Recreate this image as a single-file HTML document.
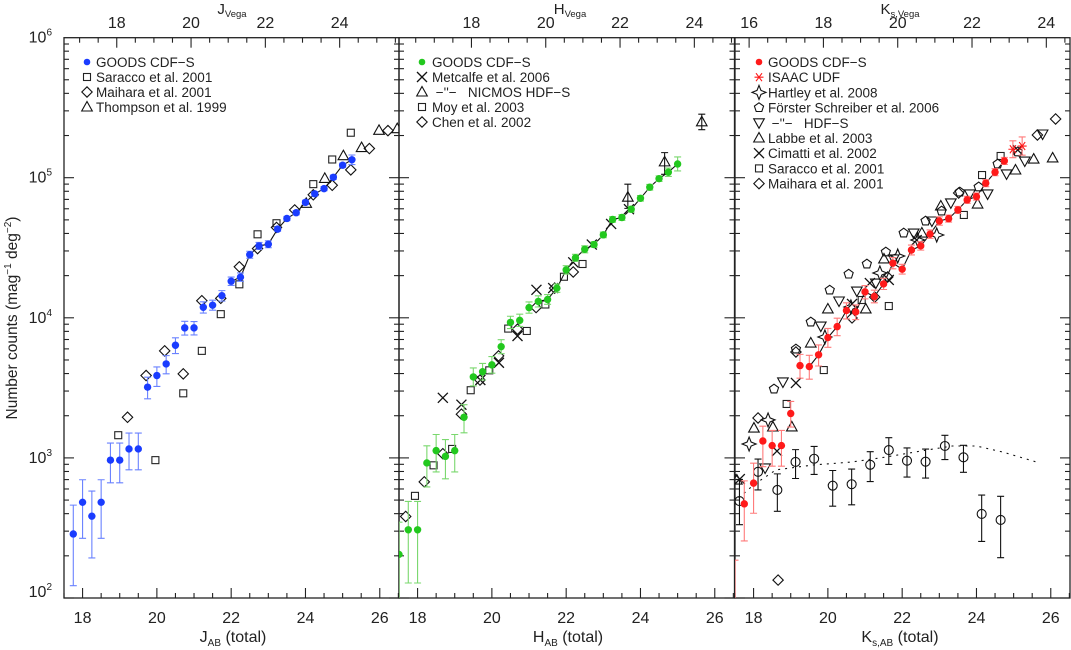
<!DOCTYPE html>
<html><head><meta charset="utf-8">
<style>
html,body{margin:0;padding:0;background:#fff;}
svg{display:block;font-family:"Liberation Sans",sans-serif;}
text{fill:#222;}
</style></head>
<body>
<svg id="chart" width="1071" height="650" viewBox="0 0 1071 650" xmlns="http://www.w3.org/2000/svg">
<defs>
<clipPath id="c0"><rect x="64" y="37.7" width="335" height="560.3"/></clipPath>
<clipPath id="c1"><rect x="399" y="37.7" width="335.5" height="560.3"/></clipPath>
<clipPath id="c2"><rect x="735" y="37.7" width="335" height="560.3"/></clipPath>
</defs>
<g id="axes"></g>
<g id="marks"></g>
<text transform="translate(17,318) rotate(-90)" text-anchor="middle" font-size="15.5">Number counts (mag<tspan dy="-6" font-size="10">−1</tspan><tspan dy="6"> deg</tspan><tspan dy="-6" font-size="10">−2</tspan><tspan dy="6">)</tspan></text>
<text x="233" y="642" text-anchor="middle" font-size="16">J<tspan dy="4" font-size="10">AB</tspan><tspan dy="-4"> (total)</tspan></text>
<text x="568" y="642" text-anchor="middle" font-size="16">H<tspan dy="4" font-size="10">AB</tspan><tspan dy="-4"> (total)</tspan></text>
<text x="900" y="642" text-anchor="middle" font-size="16">K<tspan dy="4" font-size="10">s,AB</tspan><tspan dy="-4"> (total)</tspan></text>
<text x="232" y="14" text-anchor="middle" font-size="15">J<tspan dy="3" font-size="9.5">Vega</tspan></text>
<text x="570" y="14" text-anchor="middle" font-size="15">H<tspan dy="3" font-size="9.5">Vega</tspan></text>
<text x="900" y="14" text-anchor="middle" font-size="15">K<tspan dy="3" font-size="9.5">s,Vega</tspan></text>
<g id="legends" font-size="13.5"></g>
</svg>
<script>
// ---------- data (magnitudes AB, log10 counts) ----------
const jMag = [17.75,18.0,18.25,18.5,18.75,19.0,19.25,19.5,19.75,20.0,20.25,20.5,20.75,21.0,21.25,21.5,21.75,22.0,22.25,22.5,22.75,23.0,23.25,23.5,23.75,24.0,24.25,24.5,24.75,25.0,25.25];
const jLog = [2.457,2.683,2.584,2.683,2.984,2.984,3.064,3.064,3.505,3.588,3.671,3.804,3.928,3.928,4.075,4.090,4.158,4.261,4.290,4.450,4.513,4.525,4.633,4.709,4.750,4.824,4.885,4.922,5.003,5.089,5.128];
const jUp = [.206,.161,.179,.161,.122,.122,.113,.113,.071,.061,.059,.053,.047,.045,.039,.036,.036,.03,.03,.025,.025,.025,.015,.015,.015,.015,.015,.015,.015,.015,.034];
const jDn = [.369,.257,.298,.257,.162,.162,.149,.149,.083,.078,.071,.059,.051,.05,.041,.036,.039,.03,.03,.025,.025,.025,.015,.015,.015,.015,.015,.015,.015,.015,.034];
const jSarMag = [18.96,19.96,20.71,21.21,21.72,22.22,22.71,23.22,24.21,24.72,25.22];
const jSarLog = [3.162,2.984,3.461,3.764,4.026,4.239,4.596,4.675,4.954,5.130,5.321];
const jMaiMag = [19.21,19.71,20.21,20.71,21.21,21.72,22.22,22.71,23.22,23.71,24.21,24.72,25.22,25.72,26.22];
const jMaiLog = [3.290,3.588,3.764,3.600,4.122,4.139,4.364,4.494,4.645,4.770,4.878,4.946,5.056,5.208,5.336];
const jThoMag = [24.02,24.52,25.02,25.51,25.98,26.47];
const jThoLog = [4.817,4.995,5.157,5.215,5.338,5.350];

const hMag = [17.5,17.75,18.0,18.25,18.5,18.75,19.0,19.25,19.5,19.75,20.0,20.25,20.5,20.75,21.0,21.25,21.5,21.75,22.0,22.25,22.5,22.75,23.0,23.25,23.5,23.75,24.0,24.25,24.5,24.75,25.0];
const hLog = [2.311,2.487,2.487,2.964,3.052,3.011,3.052,3.290,3.578,3.615,3.664,3.794,3.967,3.982,4.073,4.117,4.131,4.212,4.342,4.428,4.489,4.523,4.592,4.702,4.716,4.775,4.853,4.932,4.993,5.039,5.098];
const hUp = [.23,.202,.202,.122,.115,.12,.115,.09,.064,.059,.059,.05,.044,.044,.04,.04,.035,.03,.03,.025,.025,.02,.02,.02,.02,.02,.02,.02,.02,.03,.05];
const hDn = [.5,.38,.38,.171,.152,.16,.152,.111,.064,.059,.059,.05,.044,.044,.04,.04,.035,.03,.03,.025,.025,.02,.02,.02,.02,.02,.02,.02,.02,.03,.05];
const hMetMag = [18.68,19.18,19.69,20.19,20.69,21.20,21.65,22.19,22.69,23.21,23.69];
const hMetLog = [3.429,3.380,3.556,3.679,3.870,4.200,4.212,4.396,4.523,4.670,4.775];
const hNicMag = [23.66,24.65,25.65];
const hNicLog = [4.861,5.113,5.399];
const hNicUp = [.093,.066,.054];
const hNicDn = [.08,.089,.056];
const hMoyMag = [17.93,18.43,18.93,19.43,19.93,20.44,20.94,21.44,21.94,22.44];
const hMoyLog = [2.729,2.947,3.064,3.483,3.625,3.923,3.906,4.095,4.293,4.384];
const hChenMag = [17.68,18.18,18.68,19.18,19.68,20.18,20.69,21.19,21.69,22.19];
const hChenLog = [2.582,2.829,3.030,3.312,3.556,3.728,3.919,4.073,4.212,4.327];

const kMag = [17.5,17.75,18.0,18.25,18.5,18.75,19.0,19.25,19.5,19.75,20.0,20.25,20.5,20.75,21.0,21.25,21.5,21.75,22.0,22.25,22.5,22.75,23.0,23.25,23.5,23.75,24.0,24.25,24.5,24.75];
const kLog = [1.9,2.672,2.820,3.121,3.088,3.088,3.317,3.659,3.652,3.736,3.859,3.937,4.052,4.042,4.185,4.152,4.242,4.390,4.347,4.484,4.513,4.597,4.691,4.708,4.770,4.842,4.865,4.961,5.039,5.120];
const kUp = [.37,.164,.142,.105,.108,.108,.086,.08,.08,.07,.065,.06,.055,.05,.045,.045,.04,.04,.035,.035,.03,.03,.03,.025,.025,.025,.025,.025,.025,.025];
const kDn = [.3,.265,.215,.184,.147,.147,.097,.09,.09,.08,.07,.065,.06,.055,.05,.045,.04,.04,.035,.035,.03,.03,.03,.025,.025,.025,.025,.025,.025,.025];
const kIsaMag = [24.98,25.23];
const kIsaLog = [5.203,5.226];
const kIsaErr = [.06,.065];
const kHarMag = [17.88,18.39,19.92,20.62,21.40,21.88,22.42,22.93];
const kHarLog = [3.099,3.271,3.863,4.077,4.320,4.441,4.555,4.591];
const kFoeMag = [18.55,19.14,19.54,20.05,20.56,21.05,21.56,22.04,22.63,23.06,23.55,24.06,24.57,25.11];
const kFoeLog = [3.492,3.777,3.970,4.198,4.312,4.384,4.470,4.605,4.691,4.762,4.898,4.934,5.098,5.184];
const kHdfMag = [18.31,18.79,19.81,20.30,20.78,21.29,21.77,22.31,22.80,23.31,23.82,24.30,24.81,25.30,25.78];
const kHdfLog = [2.928,3.542,3.941,4.120,4.191,4.248,4.420,4.605,4.691,4.820,4.884,4.884,5.027,5.119,5.312];
const kLabMag = [17.55,18.01,18.52,19.03,19.54,20.00,21.02,21.51,22.53,23.04,24.03,25.05,25.54,26.05];
const kLabLog = [2.842,3.213,3.221,3.221,3.820,4.063,4.063,4.420,4.605,4.798,4.812,5.055,5.133,5.141];
const kCimMag = [17.63,18.63,19.14,20.65,21.13,21.64,22.39,25.11];
const kCimLog = [2.849,3.049,3.535,4.099,4.248,4.270,4.555,5.198];
const kSarMag = [18.89,19.89,20.91,21.64,23.66,24.15,24.65];
const kSarLog = [3.385,3.627,4.127,4.084,4.734,5.019,5.155];
const kMaiMag = [18.12,18.66,19.14,20.65,21.26,21.61,23.52,25.64,26.13];
const kMaiLog = [3.285,2.128,3.756,3.999,4.148,4.291,4.891,5.305,5.419];
const kCirMag = [17.62,18.12,18.64,19.13,19.63,20.13,20.64,21.14,21.64,22.13,22.63,23.15,23.65,24.14,24.65];
const kCirLog = [2.692,2.901,2.771,2.971,2.994,2.802,2.812,2.951,3.056,2.980,2.973,3.085,3.004,2.600,2.557];
const kCirUp = [.154,.091,.115,.088,.088,.108,.108,.093,.088,.091,.09,.076,.086,.135,.169];
const kCirDn = [.169,.130,.152,.118,.112,.147,.147,.120,.103,.117,.117,.097,.107,.196,.269];
const kModMag = [17.6,18.0,18.6,19.6,20.65,21.55,22.65,23.35,24.0,24.7,25.7];
const kModLog = [2.714,2.807,2.914,2.949,2.971,3.006,3.056,3.085,3.085,3.042,2.964];

const xTickLabels = ["18","20","22","24","26"];
const yTickLabels = ["2","3","4","5","6"];
const vegaOffsets = [0.92,1.45,1.88];
const topTickLabels = [["18","20","22","24"],["18","20","22","24"],["16","18","20","22","24"]];

// ---------- scales ----------
const PX = [64,399,735], PW = [335,335.5,335];
const TOP = 37.7, BOT = 598, DEC = 140.1, PPM = 37.15, MMIN = 17.5;
function X(p,m){return PX[p] + (m-MMIN)*PPM;}
function Y(l){return BOT - (l-2)*DEC;}

const NS = "http://www.w3.org/2000/svg";
function mk(tag, attrs, parent){
  const e = document.createElementNS(NS, tag);
  for (const k in attrs) e.setAttribute(k, attrs[k]);
  parent.appendChild(e);
  return e;
}
const axes = document.getElementById('axes');
const marks = document.getElementById('marks');
const legends = document.getElementById('legends');

// ---------- axes ----------
for (let p=0;p<3;p++){
  const x0 = PX[p], x1 = PX[p]+PW[p];
  const fr = mk('rect',{x:x0,y:TOP,width:PW[p],height:BOT-TOP,fill:'none',stroke:'#222','stroke-width':1.3},axes);
  
  
  for (let m=17.5;m<=26.55;m+=0.5){
    const x = X(p,m); if (x<x0-0.5||x>x1+0.5) continue;
    const major = Math.abs(m/2-Math.round(m/2))<1e-6;
    const L = major?10:5;
    mk('line',{x1:x,y1:BOT,x2:x,y2:BOT-L,stroke:'#222','stroke-width':1.1},axes);
  }
  xTickLabels.forEach(s=>{
    const m = parseFloat(s); const x = X(p,m);
    if (x>x1+2) return;
    const t = mk('text',{x:x,y:623,'text-anchor':'middle','font-size':16},axes);
    t.textContent = s;
    
    
  });
  const off = vegaOffsets[p];
  for (let v=14;v<=26;v+=0.5){
    const x = X(p,v+off); if (x<x0+0.5||x>x1-0.5) continue;
    const major = Math.abs(v/2-Math.round(v/2))<1e-6;
    const L = major?10:5;
    mk('line',{x1:x,y1:TOP,x2:x,y2:TOP+L,stroke:'#222','stroke-width':1.1},axes);
  }
  topTickLabels[p].forEach(s=>{
    const x = X(p,parseFloat(s)+off);
    const t = mk('text',{x:x,y:28,'text-anchor':'middle','font-size':16},axes);
    t.textContent = s;
    
    
  });
  for (let d=2; d<6; d++){
    for (let k=1;k<10;k++){
      const l = d+Math.log10(k); const y = Y(l);
      const L = k===1?10:5;
      mk('line',{x1:x0,y1:y,x2:x0+L,y2:y,stroke:'#222','stroke-width':1.1},axes);
      mk('line',{x1:x1,y1:y,x2:x1-L,y2:y,stroke:'#222','stroke-width':1.1},axes);
    }
  }
}
yTickLabels.forEach(s=>{
  const y = Y(parseFloat(s));
  const t = mk('text',{x:52,y:y+(s==="2"?-1:5),'text-anchor':'end','font-size':16},axes);
  t.textContent = '10';
  const sup = mk('tspan',{dy:-7,'font-size':10},t);
  sup.textContent = s;
  
  
});

// ---------- symbols ----------
function sym(type, x, y, color, parent){
  const c = color||'#111', sw = 1.1;
  let e;
  if (type==='dot') e = mk('circle',{cx:x,cy:y,r:3.7,fill:c},parent);
  else if (type==='square') e = mk('rect',{x:x-3.5,y:y-3.5,width:7,height:7,fill:'none',stroke:c,'stroke-width':sw},parent);
  else if (type==='diamond') e = mk('polygon',{points:`${x},${y-5.2} ${x+5.2},${y} ${x},${y+5.2} ${x-5.2},${y}`,fill:'none',stroke:c,'stroke-width':sw},parent);
  else if (type==='tri') e = mk('polygon',{points:`${x},${y-5.5} ${x+5.3},${y+4} ${x-5.3},${y+4}`,fill:'none',stroke:c,'stroke-width':sw},parent);
  else if (type==='dtri') e = mk('polygon',{points:`${x},${y+5.5} ${x+5.3},${y-4} ${x-5.3},${y-4}`,fill:'none',stroke:c,'stroke-width':sw},parent);
  else if (type==='x') e = mk('path',{d:`M${x-5},${y-5}L${x+5},${y+5}M${x-5},${y+5}L${x+5},${y-5}`,stroke:c,'stroke-width':1.3,fill:'none'},parent);
  else if (type==='circle') e = mk('circle',{cx:x,cy:y,r:4.5,fill:'none',stroke:c,'stroke-width':sw},parent);
  else if (type==='pent'){
    let pts=[]; for(let i=0;i<5;i++){const a=-Math.PI/2+i*2*Math.PI/5; pts.push((x+4.8*Math.cos(a)).toFixed(1)+','+(y+4.8*Math.sin(a)).toFixed(1));}
    e = mk('polygon',{points:pts.join(' '),fill:'none',stroke:c,'stroke-width':sw},parent);
  }
  else if (type==='star4'){
    const r=7,q=2;
    e = mk('polygon',{points:`${x},${y-r} ${x+q},${y-q} ${x+r},${y} ${x+q},${y+q} ${x},${y+r} ${x-q},${y+q} ${x-r},${y} ${x-q},${y-q}`,fill:'none',stroke:c,'stroke-width':sw},parent);
  }
  else if (type==='ast') e = mk('path',{d:`M${x-4.5},${y}L${x+4.5},${y}M${x-3},${y-4}L${x+3},${y+4}M${x-3},${y+4}L${x+3},${y-4}`,stroke:c,'stroke-width':1.1,fill:'none'},parent);
  return e;
}
function errbar(x, y1, y2, color, parent){
  return mk('path',{d:`M${x},${y1}L${x},${y2}M${x-3.5},${y1}L${x+3.5},${y1}M${x-3.5},${y2}L${x+3.5},${y2}`,stroke:color,'stroke-width':1.1,fill:'none'},parent);
}
function panelGroup(p,name){
  const g = mk('g',{'clip-path':`url(#c${p})`},marks);
  
  
  return g;
}
function series(p, mags, logs, type, color, name){
  const g = panelGroup(p,name);
  mags.forEach((m,i)=>{
    const s = sym(type, X(p,m), Y(logs[i]), color, g);
    
    
  });
  return g;
}
function errSeries(p, mags, logs, up, dn, color, name){
  const g = panelGroup(p,name);
  mags.forEach((m,i)=>{
    const b = errbar(X(p,m), Y(logs[i]+up[i]), Y(logs[i]-dn[i]), color, g);
    
    
  });
}
function line(p, mags, logs, from, dash, name){
  const g = panelGroup(p,name);
  const pts = mags.slice(from).map((m,i)=>X(p,m).toFixed(1)+','+Y(logs[i+from]).toFixed(1)).join(' ');
  const l = mk('polyline',{points:pts,fill:'none',stroke:'#111','stroke-width':1.1,'stroke-dasharray':dash||'none'},g);
  
  
}

const BLUE='#1a3cff', BLUEE='#6a82ff', GREEN='#22c81e', GREENE='#7ad86e', RED='#ff1a1a', REDE='#ff7a7a';

series(0, jSarMag, jSarLog, 'square', '#222', 'j-saracco');
series(0, jMaiMag, jMaiLog, 'diamond', '#111', 'j-maihara');
series(0, jThoMag, jThoLog, 'tri', '#111', 'j-thompson');
line(0, jMag, jLog, 17, null, 'j-goods-fit-line');
errSeries(0, jMag, jLog, jUp, jDn, BLUEE, 'j-goods-errors');
series(0, jMag, jLog, 'dot', BLUE, 'j-goods');

series(1, hMoyMag, hMoyLog, 'square', '#222', 'h-moy');
series(1, hChenMag, hChenLog, 'diamond', '#111', 'h-chen');
series(1, hMetMag, hMetLog, 'x', '#111', 'h-metcalfe');
errSeries(1, hNicMag, hNicLog, hNicUp, hNicDn, '#111', 'h-nicmos-errors');
series(1, hNicMag, hNicLog, 'tri', '#111', 'h-nicmos');
line(1, hMag, hLog, 15, null, 'h-goods-fit-line');
errSeries(1, hMag, hLog, hUp, hDn, GREENE, 'h-goods-errors');
series(1, hMag, hLog, 'dot', GREEN, 'h-goods');

line(2, kModMag, kModLog, 0, '2,5', 'k-model-dotted-line');
errSeries(2, kCirMag, kCirLog, kCirUp, kCirDn, '#111', 'k-circles-errors');
series(2, kCirMag, kCirLog, 'circle', '#111', 'k-circles');
series(2, kSarMag, kSarLog, 'square', '#222', 'k-saracco');
series(2, kMaiMag, kMaiLog, 'diamond', '#111', 'k-maihara');
series(2, kLabMag, kLabLog, 'tri', '#111', 'k-labbe');
series(2, kHdfMag, kHdfLog, 'dtri', '#111', 'k-hdfs');
series(2, kFoeMag, kFoeLog, 'pent', '#111', 'k-forster');
series(2, kCimMag, kCimLog, 'x', '#111', 'k-cimatti');
series(2, kHarMag, kHarLog, 'star4', '#111', 'k-hartley');
line(2, kMag, kLog, 8, null, 'k-goods-fit-line');
errSeries(2, kMag, kLog, kUp, kDn, REDE, 'k-goods-errors');
series(2, kMag, kLog, 'dot', RED, 'k-goods');
errSeries(2, kIsaMag, kIsaLog, kIsaErr, kIsaErr, REDE, 'k-isaac-errors');
series(2, kIsaMag, kIsaLog, 'ast', RED, 'k-isaac');

// ---------- legends ----------
const leg1 = [['dot',BLUE,'GOODS CDF−S'],['square','#222','Saracco et al. 2001'],['diamond','#111','Maihara et al. 2001'],['tri','#111','Thompson et al. 1999']];
const leg2 = [['dot',GREEN,'GOODS CDF−S'],['x','#111','Metcalfe et al. 2006'],['tri','#111',' −\'\'−   NICMOS HDF−S'],['square','#222','Moy et al. 2003'],['diamond','#111','Chen et al. 2002']];
const leg3 = [['dot',RED,'GOODS CDF−S'],['ast',RED,'ISAAC UDF'],['star4','#111','Hartley et al. 2008'],['pent','#111','Förster Schreiber et al. 2006'],['dtri','#111',' −\'\'−   HDF−S'],['tri','#111','Labbe et al. 2003'],['x','#111','Cimatti et al. 2002'],['square','#222','Saracco et al. 2001'],['diamond','#111','Maihara et al. 2001']];
function legend(items, sx, tx, y0, dy){
  items.forEach((it,i)=>{
    const y = y0+i*dy;
    const g = mk('g',{},legends);
    
    
    const s = sym(it[0], sx, y, it[1], g);
    if (it[0]==='dot') s.setAttribute('r','3.3');
    
    
    const t = mk('text',{x:tx,y:y+5,'font-size':13.5},g);
    t.setAttribute('style','white-space:pre;fill:#222');
    t.textContent = it[2];
    
    
  });
}
legend(leg1, 87, 96, 62, 15);
legend(leg2, 422, 432, 62, 15);
legend(leg3, 759, 768, 62, 15.2);
</script>
</body></html>
